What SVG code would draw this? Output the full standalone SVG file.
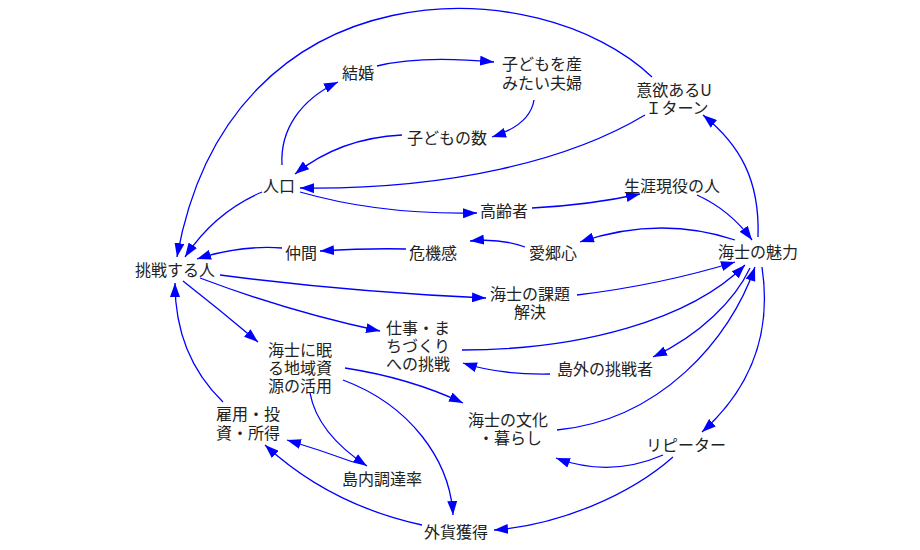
<svg xmlns="http://www.w3.org/2000/svg" width="920" height="550" viewBox="0 0 920 550">
<defs>
<marker id="ah" markerUnits="userSpaceOnUse" markerWidth="14" markerHeight="10" refX="14" refY="5" orient="auto">
<path d="M0,0 L14,5 L0,10 z" fill="#0000ff"/>
</marker>
<style>
.e{fill:none;stroke:#0000ff;stroke-width:1.3;marker-end:url(#ah)}
text{font-family:"Noto Sans CJK JP","Noto Sans CJK SC",sans-serif;font-size:16px;fill:#222;text-anchor:middle;dominant-baseline:central}
</style>
</defs>
<rect width="920" height="550" fill="#ffffff"/>
<g id="connectors">
<path class="e" d="M652,77 C540,-30 230,-40 177,257"/>
<path class="e" d="M282,165 C280,130 300,100 338,82"/>
<path class="e" d="M377,66 Q420,55 494,62"/>
<path class="e" d="M534,100 Q530,125 492,137"/>
<path class="e" d="M402,135 Q340,138 295,174"/>
<path class="e" d="M645,115 C570,160 450,190 300,188"/>
<path class="e" d="M300,192 Q380,215 477,213"/>
<path class="e" d="M262,192 Q215,212 185,257"/>
<path class="e" d="M532,208 Q590,205 640,194"/>
<path class="e" d="M697,195 Q730,210 752,240"/>
<path class="e" d="M735,240 Q660,215 580,242"/>
<path class="e" d="M525,247 Q500,238 470,241"/>
<path class="e" d="M406,249 Q370,248 320,251"/>
<path class="e" d="M282,248 Q240,245 197,259"/>
<path class="e" d="M758,237 C760,180 740,145 703,115"/>
<path class="e" d="M220,275 Q350,292 486,298"/>
<path class="e" d="M577,295 Q660,285 735,262"/>
<path class="e" d="M200,278 Q290,312 380,331"/>
<path class="e" d="M462,350 C580,350 690,320 745,265"/>
<path class="e" d="M750,268 C735,300 700,335 653,357"/>
<path class="e" d="M550,374 Q500,375 463,363"/>
<path class="e" d="M183,281 Q220,310 258,342"/>
<path class="e" d="M345,368 Q410,378 463,403"/>
<path class="e" d="M557,430 C660,420 730,340 755,267"/>
<path class="e" d="M762,267 C770,320 760,380 702,432"/>
<path class="e" d="M663,455 Q610,478 556,458"/>
<path class="e" d="M673,457 C630,495 560,525 494,530"/>
<path class="e" d="M343,380 C410,405 450,460 453,515"/>
<path class="e" d="M310,393 C315,420 335,445 367,466"/>
<path class="e" d="M353,462 Q320,450 287,440"/>
<path class="e" d="M422,525 Q330,505 265,445"/>
<path class="e" d="M223,402 C190,370 175,330 175,283"/>
</g>
<g id="n-kekkon"><text x="358" y="72">結婚</text></g>
<g id="n-fuufu"><text x="542" y="63">子どもを産<tspan x="542" dy="19">みたい夫婦</tspan></text></g>
<g id="n-kodomo"><text x="447" y="137">子どもの数</text></g>
<g id="n-jinkou"><text x="279" y="185">人口</text></g>
<g id="n-iturn"><text x="674" y="89">意欲あるU<tspan x="677" dy="18">Ｉターン</tspan></text></g>
<g id="n-shougai"><text x="672" y="185">生涯現役の人</text></g>
<g id="n-koureisha"><text x="504" y="210">高齢者</text></g>
<g id="n-aikyou"><text x="553" y="252">愛郷心</text></g>
<g id="n-kiki"><text x="433" y="252">危機感</text></g>
<g id="n-nakama"><text x="301" y="252">仲間</text></g>
<g id="n-miryoku"><text x="758" y="251">海士の魅力</text></g>
<g id="n-chousen"><text x="175" y="269">挑戦する人</text></g>
<g id="n-kadai"><text x="530" y="293">海士の課題<tspan x="530" dy="18">解決</tspan></text></g>
<g id="n-shigoto"><text x="418" y="327">仕事・ま<tspan x="418" dy="18">ちづくり</tspan><tspan x="418" dy="18">への挑戦</tspan></text></g>
<g id="n-tougai"><text x="605" y="368">島外の挑戦者</text></g>
<g id="n-shigen"><text x="300" y="349">海士に眠<tspan x="300" dy="18">る地域資</tspan><tspan x="300" dy="18">源の活用</tspan></text></g>
<g id="n-bunka"><text x="508" y="419">海士の文化<tspan x="510" dy="18">・暮らし</tspan></text></g>
<g id="n-koyou"><text x="248" y="413">雇用・投<tspan x="248" dy="19">資・所得</tspan></text></g>
<g id="n-tounai"><text x="382" y="478">島内調達率</text></g>
<g id="n-repeater"><text x="686" y="444">リピーター</text></g>
<g id="n-gaika"><text x="456" y="531">外貨獲得</text></g>
</svg>
